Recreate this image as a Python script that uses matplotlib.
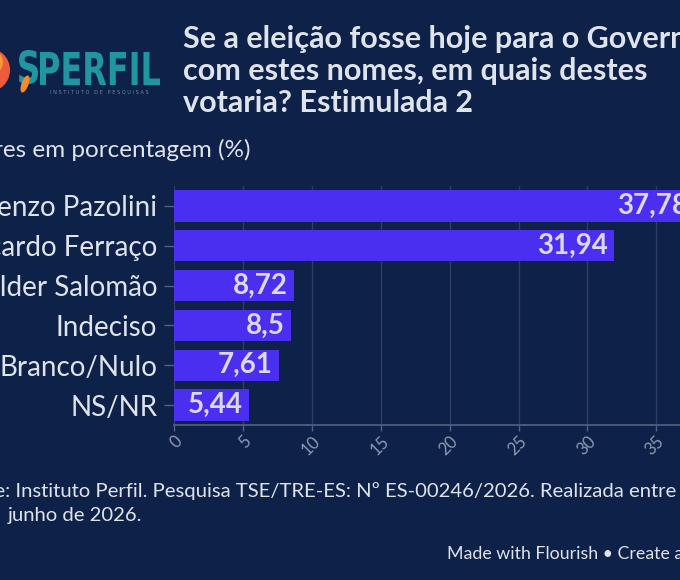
import matplotlib
matplotlib.use("Agg")
import matplotlib.pyplot as plt
from matplotlib.patches import Circle, PathPatch, Ellipse
from matplotlib.textpath import TextPath
from matplotlib.font_manager import FontProperties
from matplotlib.transforms import Affine2D, ScaledTranslation

categories = ["Lorenzo Pazolini", "Ricardo Ferraço", "Helder Salomão",
              "Indeciso", "Branco/Nulo", "NS/NR"]
values = [37.78, 31.94, 8.72, 8.5, 7.61, 5.44]
value_labels = ["37,78", "31,94", "8,72", "8,5", "7,61", "5,44"]
xticks = [0, 5, 10, 15, 20, 25, 30, 35, 40]

title = "Se a eleição fosse hoje para o Governo\ncom estes nomes, em quais destes\nvotaria? Estimulada 2"
subtitle = "Valores em porcentagem (%)"
footer1 = "Fonte: Instituto Perfil. Pesquisa TSE/TRE-ES: Nº ES-00246/2026. Realizada entre"
footer2 = "junho de 2026."
credit = "Made with Flourish • Create a chart"

BG = "#0e2148"
BAR = "#4a2ff0"
TXT = "#dfe3ec"
GRID = "#2e3f66"
AXC = "#53627f"
TICKC = "#8e9ab5"
VAL = "#ddd8f7"
FONT = "Lato"

W, H = 680, 580
fig = plt.figure(figsize=(W / 100, H / 100), dpi=100, facecolor=BG)

ax_left = 174 / W
ax_right = (174 + 40 * 13.78) / W
ax_top = 1 - 186 / H
ax_bot = 1 - 425 / H
ax = fig.add_axes([ax_left, ax_bot, ax_right - ax_left, ax_top - ax_bot])
ax.set_facecolor(BG)

ypos = list(range(len(categories)))
ax.barh(ypos, values, height=0.79, color=BAR, zorder=3)
ax.set_xlim(0, 40)
ax.set_ylim(len(categories) - 0.5, -0.5)
ax.set_yticks(ypos)
ax.set_yticklabels(categories, fontsize=20, color=TXT, family=FONT)
ax.set_xticks(xticks)
ax.set_xticklabels([str(t) for t in xticks], fontsize=12, color=TICKC, family=FONT)

for s in ["top", "right", "left"]:
    ax.spines[s].set_visible(False)
ax.spines["bottom"].set_color(AXC)
ax.spines["bottom"].set_linewidth(1.2)
ax.grid(axis="x", color=GRID, linewidth=1, zorder=0)
ax.tick_params(axis="y", length=7, width=1, color=AXC, pad=5)
ax.tick_params(axis="x", length=4, width=1, color=AXC, pad=2)

off = ScaledTranslation(4 / 72, -4 / 72, fig.dpi_scale_trans)
for lab in ax.get_xticklabels():
    lab.set_rotation(45)
    lab.set_ha("right")
    lab.set_va("center")
    lab.set_rotation_mode("anchor")
    lab.set_transform(lab.get_transform() + off)

for y, v, t in zip(ypos, values, value_labels):
    ax.text(v - 0.45, y, t, ha="right", va="center", fontsize=20,
            fontweight="bold", color=VAL, family=FONT, zorder=4)

# Title and texts
fig.text(183 / W, 1 - 25 / H, title, ha="left", va="top", fontsize=22,
         fontweight="bold", color=TXT, family=FONT, linespacing=1.17)
fig.text(250 / W, 1 - 150 / H, subtitle, ha="right", va="center", fontsize=17.5,
         color=TXT, family=FONT)
fig.text(676 / W, 1 - 491 / H, footer1, ha="right", va="center", fontsize=14.6,
         color=TXT, family=FONT)
fig.text(8 / W, 1 - 515 / H, footer2, ha="left", va="center", fontsize=14.6,
         color=TXT, family=FONT)
fig.text(447 / W, 1 - 554 / H, credit, ha="left", va="center", fontsize=12.8,
         color=TXT, family=FONT)

# Logo
fig.patches.append(Circle((-12, H - 70), 22, transform=None, facecolor="#ee5a3e",
                          edgecolor="none"))
fig.patches.append(Circle((-10, H - 62), 13, transform=None, facecolor="#f5983a",
                          edgecolor="none"))
fp = FontProperties(family="DejaVu Sans", weight="bold")
tp = TextPath((0, 0), "PERFIL", prop=fp, size=10)
bb = tp.get_extents()
sx = (160 - 40) / bb.width
sy = 33 / bb.height
tr = Affine2D().translate(-bb.x0, -bb.y0).scale(sx, sy).translate(40, H - 85)
fig.patches.append(PathPatch(tr.transform_path(tp), transform=None,
                             facecolor="#1f96a0", edgecolor="none"))
sp = TextPath((0, 0), "S", prop=fp, size=10)
sb = sp.get_extents()
trs = Affine2D().translate(-sb.x0, -sb.y0).scale(19 / sb.width, 34 / sb.height).translate(19, H - 84)
fig.patches.append(PathPatch(trs.transform_path(sp), transform=None,
                             facecolor="#1f96a0", edgecolor="none"))
fig.patches.append(Ellipse((25, H - 84), 7, 18, angle=-20, transform=None,
                           facecolor="#f28c2e", edgecolor="none"))
fig.text(99 / W, 1 - 92 / H, "I N S T I T U T O   D E   P E S Q U I S A S",
         ha="center", va="center", fontsize=3.6, color="#6f8aa0", family="DejaVu Sans")

fig.savefig("out.png", dpi=100, facecolor=BG)
